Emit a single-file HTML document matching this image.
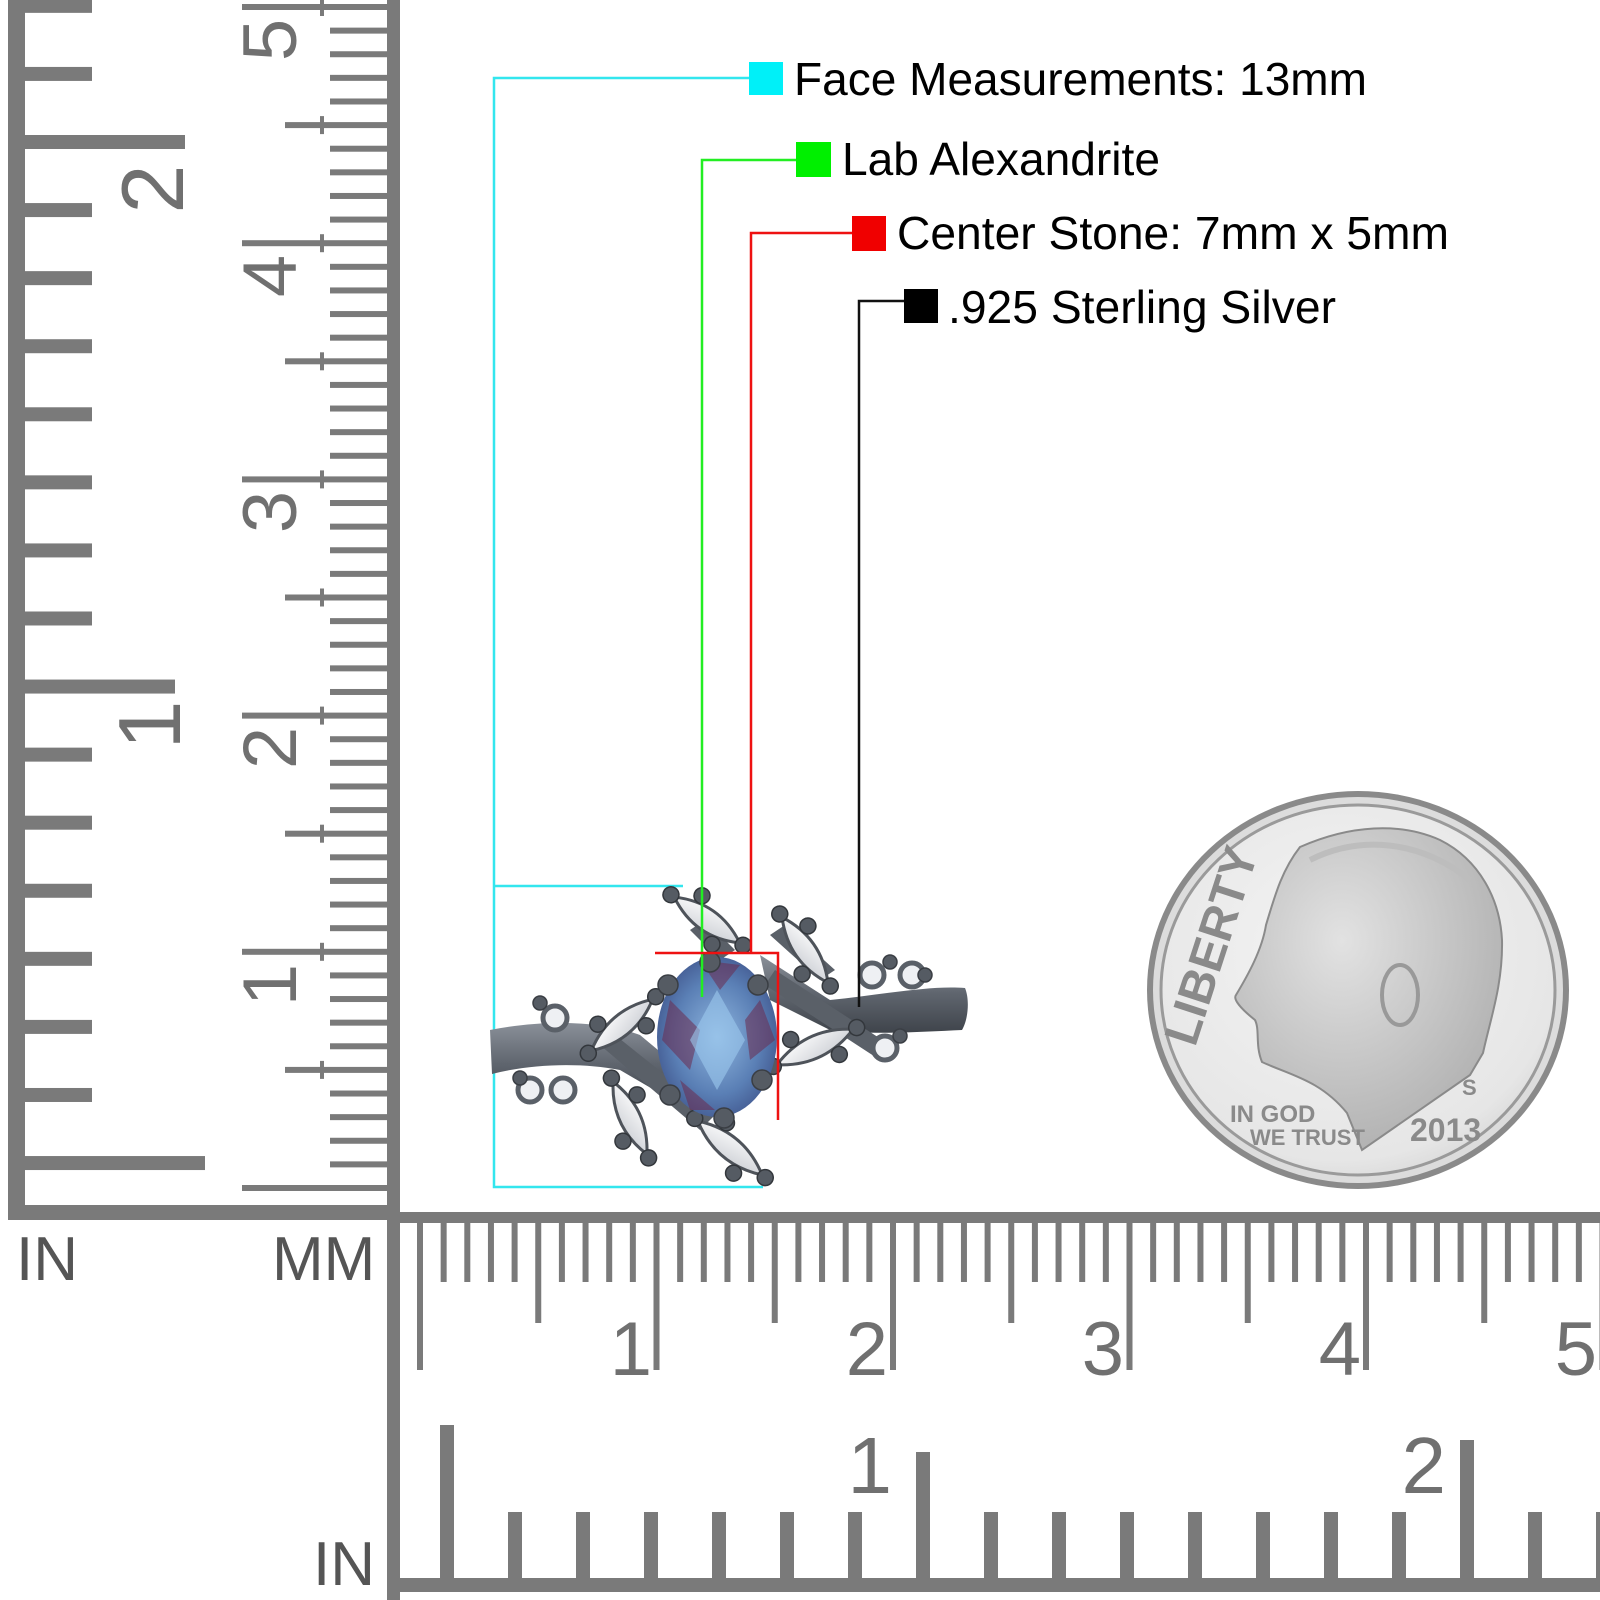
<!DOCTYPE html>
<html><head><meta charset="utf-8"><style>html,body{margin:0;padding:0;background:#fff}svg{display:block}</style></head>
<body>
<svg xmlns="http://www.w3.org/2000/svg" width="1600" height="1600" viewBox="0 0 1600 1600">
<defs>
<radialGradient id="coin" cx="0.45" cy="0.4" r="0.7"><stop offset="0" stop-color="#f4f4f4"/><stop offset="0.8" stop-color="#e6e6e6"/><stop offset="1" stop-color="#cfcfcf"/></radialGradient>
<radialGradient id="head" cx="0.4" cy="0.35" r="0.8"><stop offset="0" stop-color="#e2e2e2"/><stop offset="1" stop-color="#a8a8a8"/></radialGradient>
<linearGradient id="band" x1="0" y1="0" x2="0" y2="1"><stop offset="0" stop-color="#8a9099"/><stop offset="0.5" stop-color="#5f656e"/><stop offset="1" stop-color="#3f444b"/></linearGradient>
<radialGradient id="stone" cx="0.5" cy="0.5" r="0.6"><stop offset="0" stop-color="#8fb6df"/><stop offset="0.6" stop-color="#5a7fb5"/><stop offset="1" stop-color="#3c4f86"/></radialGradient>
<linearGradient id="mq" x1="0" y1="0" x2="1" y2="1"><stop offset="0" stop-color="#ffffff"/><stop offset="1" stop-color="#c9ccd2"/></linearGradient>
</defs>
<rect width="1600" height="1600" fill="#fff"/>
<g fill="#7a7a7a" stroke="none">
<rect x="8" y="0" width="17" height="1220"/>
<rect x="8" y="1205" width="392" height="15"/>
<rect x="387" y="0" width="13" height="1600"/>
<rect x="387" y="1212" width="1213" height="11"/>
<rect x="387" y="1578" width="1213" height="14"/>
</g>
<g id="ticks" fill="#7a7a7a"></g>
<g fill="#707070" font-family="Liberation Sans, sans-serif">
<text transform="translate(183,189) rotate(-90)" font-size="88" text-anchor="middle">2</text>
<text transform="translate(180,725) rotate(-90)" font-size="88" text-anchor="middle">1</text>
<text transform="translate(296,40) rotate(-90)" font-size="76" text-anchor="middle">5</text>
<text transform="translate(296,276) rotate(-90)" font-size="76" text-anchor="middle">4</text>
<text transform="translate(296,512) rotate(-90)" font-size="76" text-anchor="middle">3</text>
<text transform="translate(296,748) rotate(-90)" font-size="76" text-anchor="middle">2</text>
<text transform="translate(296,985) rotate(-90)" font-size="76" text-anchor="middle">1</text>
<text x="652" y="1375" font-size="76" text-anchor="end">1</text>
<text x="888" y="1375" font-size="76" text-anchor="end">2</text>
<text x="1124" y="1375" font-size="76" text-anchor="end">3</text>
<text x="1361" y="1375" font-size="76" text-anchor="end">4</text>
<text x="1597" y="1375" font-size="76" text-anchor="end">5</text>
<text x="892" y="1493" font-size="80" text-anchor="end">1</text>
<text x="1446" y="1493" font-size="80" text-anchor="end">2</text>
</g>
<g fill="#555" font-family="Liberation Sans, sans-serif" font-size="62">
<text x="16" y="1280">IN</text>
<text x="272" y="1280">MM</text>
<text x="313" y="1585">IN</text>
</g>

<g fill="none" stroke-width="2.5">
<polyline points="752,78 494,78 494,1187 763,1187" stroke="#33e6ee"/>
<line x1="494" y1="886" x2="683" y2="886" stroke="#33e6ee"/>
</g>

<!-- ring -->
<g>
<path d="M490,1030 C540,1020 600,1020 640,1035 L700,1085 L680,1105 L620,1070 C580,1062 530,1064 492,1074 Z" fill="url(#band)"/>
<path d="M760,955 L830,1000 C880,995 930,985 965,988 C970,1000 968,1020 962,1030 C920,1032 870,1035 830,1030 L770,1000 Z" fill="url(#band)"/>
<path d="M600,1045 L700,1130 L715,1115 L615,1035 Z" fill="#5a6068"/>
<path d="M765,985 L880,1060 L890,1045 L775,970 Z" fill="#5a6068"/>
<path d="M690,930 L720,960 L735,950 L705,920 Z" fill="#5a6068"/>
<path d="M770,935 L820,980 L835,970 L785,925 Z" fill="#5a6068"/>
<g id="mqs"></g>
<g fill="#eef0f3" stroke="#5a6068" stroke-width="5">
<circle cx="555" cy="1018" r="12"/><circle cx="530" cy="1090" r="12"/><circle cx="563" cy="1090" r="12"/>
<circle cx="872" cy="975" r="12"/><circle cx="912" cy="975" r="12"/><circle cx="885" cy="1048" r="12"/>
</g>
<ellipse cx="717" cy="1037" rx="60" ry="80" fill="url(#stone)"/>
<g fill="#6b2c50" opacity="0.55">
<path d="M670,1000 L700,1030 L690,1070 L662,1040Z"/><path d="M760,1000 L775,1040 L750,1060 L745,1020Z"/>
<path d="M700,960 L740,965 L720,990Z"/><path d="M680,1080 L715,1110 L690,1110Z"/>
</g>
<path d="M717,990 L745,1040 L717,1090 L690,1040Z" fill="#9cc9ee" opacity="0.6"/>
<g fill="#555b63" stroke="#3a3e44" stroke-width="1.5">
<circle cx="710" cy="962" r="10"/><circle cx="668" cy="985" r="10"/><circle cx="758" cy="985" r="10"/>
<circle cx="670" cy="1095" r="10"/><circle cx="762" cy="1080" r="10"/><circle cx="724" cy="1118" r="10"/>
<circle cx="540" cy="1003" r="7"/><circle cx="520" cy="1078" r="7"/><circle cx="890" cy="962" r="7"/><circle cx="925" cy="975" r="7"/><circle cx="900" cy="1036" r="7"/>
</g>
</g>

<g fill="none" stroke-width="2.5">
<polyline points="800,160 702,160 702,997" stroke="#22ee22"/>
<polyline points="855,233 751,233 751,953" stroke="#ee1111"/>
<polyline points="655,953 778,953 778,1120" stroke="#ee1111"/>
<polyline points="908,301 859,301 859,1007" stroke="#111"/>
</g>
<rect x="749" y="62" width="34" height="33" fill="#00f0f8"/>
<rect x="796" y="142" width="35" height="35" fill="#00f000"/>
<rect x="852" y="216" width="34" height="35" fill="#f00000"/>
<rect x="904" y="289" width="34" height="34" fill="#000"/>
<g font-family="Liberation Sans, sans-serif" font-size="46" fill="#000">
<text x="794" y="95" textLength="573" lengthAdjust="spacingAndGlyphs">Face Measurements: 13mm</text>
<text x="842" y="175" textLength="318" lengthAdjust="spacingAndGlyphs">Lab Alexandrite</text>
<text x="897" y="249" textLength="552" lengthAdjust="spacingAndGlyphs">Center Stone: 7mm x 5mm</text>
<text x="948" y="323" textLength="388" lengthAdjust="spacingAndGlyphs">.925 Sterling Silver</text>
</g>

<!-- dime -->
<g>
<ellipse cx="1358" cy="990" rx="211" ry="199" fill="#8a8a8a"/>
<ellipse cx="1358" cy="990" rx="205" ry="193" fill="#dcdcdc"/>
<ellipse cx="1358" cy="990" rx="197" ry="185" fill="url(#coin)" stroke="#9a9a9a" stroke-width="3"/>
<path d="M1300,847 C1350,825 1400,822 1440,840 C1480,860 1500,900 1502,940 C1503,985 1490,1020 1483,1053 L1470,1075 L1362,1150 L1347,1113 C1320,1080 1290,1075 1262,1062 C1255,1045 1260,1030 1255,1020 C1245,1012 1232,1000 1236,995 C1248,975 1262,950 1266,925 C1275,895 1282,870 1300,847Z" fill="url(#head)" stroke="#8a8a8a" stroke-width="2"/>
<path d="M1310,860 C1360,835 1420,840 1470,880" fill="none" stroke="#bdbdbd" stroke-width="6"/>
<ellipse cx="1400" cy="995" rx="18" ry="30" fill="none" stroke="#999" stroke-width="4"/>
<g font-family="Liberation Sans, sans-serif" font-weight="bold" fill="#8a8a8a">
<text transform="translate(1195,1048) rotate(-72)" font-size="48" textLength="205" lengthAdjust="spacingAndGlyphs">LIBERTY</text>
<text x="1230" y="1122" font-size="24">IN GOD</text>
<text x="1250" y="1145" font-size="22">WE TRUST</text>
<text x="1410" y="1141" font-size="32">2013</text>
<text x="1462" y="1095" font-size="22">S</text>
</g>
</g>

<script>
(function(){
var g=document.getElementById('ticks'),ns='http://www.w3.org/2000/svg';
function r(x,y,w,h){var e=document.createElementNS(ns,'rect');e.setAttribute('x',x);e.setAttribute('y',y);e.setAttribute('width',w);e.setAttribute('height',h);g.appendChild(e);}
for(var k=0;k<=17;k++){var y=142+68.07*(k-2);var L=92;if(k==2)L=185;if(k==10)L=175;if(k==17)L=205;r(25,y-7,L-25,14);}
for(var n=0;n<=50;n++){var y=1188-23.62*n;var x0=330;if(n%5==0)x0=285;if(n%10==0)x0=242;r(x0,y-3,387-x0,6);if(n%5==0&&n>0)r(320,y-9,4,18);}
for(var n=0;n<=50;n++){var x=420+23.65*n;var y1=1282;if(n%5==0)y1=1323;if(n%10==0)y1=1370;r(x-3,1223,6,y1-1223);}
for(var k=0;k<=17;k++){var x=447+68*k;var y0=1512;if(k==0)y0=1425;if(k==7)y0=1452;if(k==15)y0=1440;r(x-7,y0,14,1578-y0);}
var m=document.getElementById('mqs');
var list=[[707,920,35,40,20],[805,950,55,40,19],[622,1025,-40,40,19],[815,1047,-25,42,20],[630,1118,65,40,19],[730,1148,40,42,20]];
list.forEach(function(q){
 var t=document.createElementNS(ns,'g');t.setAttribute('transform','translate('+q[0]+','+q[1]+') rotate('+q[2]+')');
 var L=q[3],W=q[4];
 var p=document.createElementNS(ns,'path');p.setAttribute('d','M'+(-L)+',0 Q0,'+(-W*1.1)+' '+L+',0 Q0,'+(W*1.1)+' '+(-L)+',0Z');
 p.setAttribute('fill','url(#mq)');p.setAttribute('stroke','#4e535a');p.setAttribute('stroke-width','3');t.appendChild(p);
 [[-L-4,0],[L+4,0],[-L*0.45,-W*0.85],[L*0.45,W*0.85]].forEach(function(c){
  var e=document.createElementNS(ns,'circle');e.setAttribute('cx',c[0]);e.setAttribute('cy',c[1]);e.setAttribute('r',8);
  e.setAttribute('fill','#555b63');e.setAttribute('stroke','#33373c');e.setAttribute('stroke-width','1.5');t.appendChild(e);});
 m.appendChild(t);});
})();
</script>
</svg>
</body></html>
